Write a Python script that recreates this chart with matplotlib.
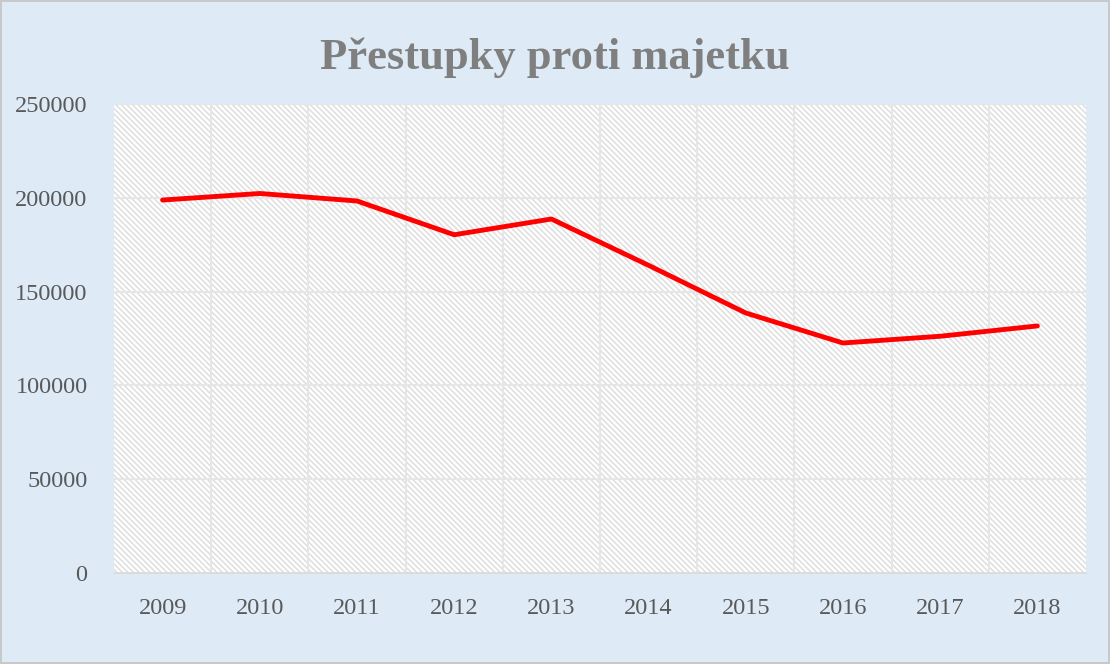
import numpy as np
import matplotlib.pyplot as plt
from matplotlib.patches import Rectangle

years = ['2009', '2010', '2011', '2012', '2013', '2014', '2015', '2016', '2017', '2018']
values = [198800, 202300, 198300, 180300, 188700, 164000, 138600, 122600, 126200, 131700]
y_ticks = [0, 50000, 100000, 150000, 200000, 250000]

plt.rcParams['font.family'] = ['Liberation Serif', 'DejaVu Serif']
plt.rcParams['hatch.linewidth'] = 1.1
plt.rcParams['hatch.color'] = '#dedede'

fig = plt.figure(figsize=(11.1, 6.64), dpi=100)
fig.patch.set_facecolor('#deeaf6')
fig.patch.set_edgecolor('#c8c8c8')
fig.patch.set_linewidth(1.5)

ax = fig.add_axes([114 / 1110, 1 - 573 / 664, 972 / 1110, 469 / 664])
ax.set_facecolor('white')
x = np.arange(len(years))
ax.set_xlim(-0.5, len(years) - 0.5)
ax.set_ylim(0, 250000)

# diagonal pattern fill of the plot area
ax.add_patch(Rectangle((0, 0), 1, 1, transform=ax.transAxes, facecolor='white',
                       edgecolor='#dedede', hatch='\\' * 6, linewidth=0, zorder=0))

for v in y_ticks[1:]:
    ax.axhline(v, color='#e6e6e6', lw=1.5, zorder=1)
for b in np.arange(0.5, len(years) - 0.5, 1):
    ax.axvline(b, color='#e6e6e6', lw=1.5, zorder=1)

ax.plot(x, values, color='#ff0000', lw=3.5, solid_capstyle='round', zorder=3)

ax.set_xticks(x)
ax.set_xticklabels(years)
ax.set_yticks(y_ticks)
ax.set_yticklabels([str(v) for v in y_ticks])
ax.tick_params(length=0, labelsize=17.5, colors='#595959')
ax.tick_params(axis='x', pad=18)
ax.tick_params(axis='y', pad=19)
for s in ['top', 'right', 'left']:
    ax.spines[s].set_visible(False)
ax.spines['bottom'].set_color('#d9d9d9')
ax.spines['bottom'].set_linewidth(1.2)

fig.text(0.5, 1 - 58 / 664, 'Přestupky proti majetku', ha='center', va='center',
         fontsize=32, fontweight='bold', color='#7f7f7f')

fig.savefig('out.png', dpi=100, facecolor=fig.get_facecolor(), edgecolor=fig.get_edgecolor())
